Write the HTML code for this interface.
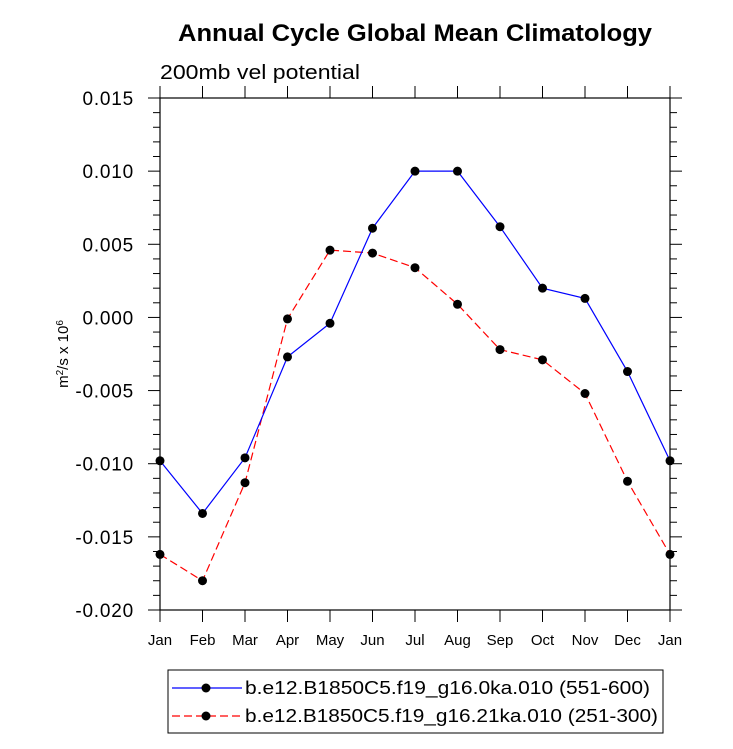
<!DOCTYPE html>
<html><head><meta charset="utf-8"><style>
body{margin:0;background:#fff}
svg text{font-family:"Liberation Sans",Helvetica,Arial,sans-serif;fill:#000}
</style></head><body>
<svg id="chart" width="733" height="744" viewBox="0 0 733 744" xmlns="http://www.w3.org/2000/svg">
<text x="178" y="41" font-size="24" font-weight="bold" textLength="474" lengthAdjust="spacingAndGlyphs">Annual Cycle Global Mean Climatology</text>
<text x="160" y="79" font-size="20" textLength="200" lengthAdjust="spacingAndGlyphs">200mb vel potential</text>
<text transform="translate(68,354) rotate(-90)" text-anchor="middle" font-size="15">m<tspan baseline-shift="super" font-size="10">2</tspan>/s x 10<tspan baseline-shift="super" font-size="10">6</tspan></text>
<g id="axes"></g>
<g id="series"></g>
<g id="legend"></g>
</svg>
<script>
const months = ["Jan","Feb","Mar","Apr","May","Jun","Jul","Aug","Sep","Oct","Nov","Dec","Jan"];
const yTicks = [0.015,0.010,0.005,0.000,-0.005,-0.010,-0.015,-0.020];
const yTickLabels = ["0.015","0.010","0.005","0.000","-0.005","-0.010","-0.015","-0.020"];
const blueValues = [-0.0098,-0.0134,-0.0096,-0.0027,-0.0004,0.0061,0.0100,0.0100,0.0062,0.0020,0.0013,-0.0037,-0.0098];
const redValues = [-0.0162,-0.0180,-0.0113,-0.0001,0.0046,0.0044,0.0034,0.0009,-0.0022,-0.0029,-0.0052,-0.0112,-0.0162];
const seriesNames = ["b.e12.B1850C5.f19_g16.0ka.010 (551-600)","b.e12.B1850C5.f19_g16.21ka.010 (251-300)"];

const L=160,R=670,T=98,B=610,yMin=-0.020,yMax=0.015;
const xs=i=>L+(R-L)*i/(months.length-1);
const ys=v=>B-(v-yMin)/(yMax-yMin)*(B-T);
const NS="http://www.w3.org/2000/svg";
function mk(tag,attrs,parent){const e=document.createElementNS(NS,tag);for(const k in attrs)e.setAttribute(k,attrs[k]);parent.appendChild(e);return e;}
const axes=document.getElementById('axes');
const frame=mk('rect',{x:L,y:T,width:R-L,height:B-T,fill:'none',stroke:'#000','stroke-width':1.2},axes);


yTicks.forEach((v,i)=>{
  const y=ys(v);
  mk('line',{x1:L-12,x2:L,y1:y,y2:y,stroke:'#000'},axes);
  mk('line',{x1:R,x2:R+12,y1:y,y2:y,stroke:'#000'},axes);
  const t=mk('text',{x:L-26,y:y+7,'text-anchor':'end','font-size':19,'letter-spacing':0.8},axes);
  t.textContent=yTickLabels[i];
  
  
  if(i<yTicks.length-1){for(let m=1;m<5;m++){const yy=y+(ys(yTicks[i+1])-y)*m/5;
    mk('line',{x1:L-7,x2:L,y1:yy,y2:yy,stroke:'#000'},axes);
    mk('line',{x1:R,x2:R+7,y1:yy,y2:yy,stroke:'#000'},axes);}}
});
months.forEach((m,i)=>{
  const x=xs(i);
  mk('line',{x1:x,x2:x,y1:B,y2:B+12,stroke:'#000'},axes);
  mk('line',{x1:x,x2:x,y1:T-12,y2:T,stroke:'#000'},axes);
  const t=mk('text',{x:x,y:B+35,'text-anchor':'middle','font-size':15},axes);
  t.textContent=m;
  
  
});
const ser=document.getElementById('series');
function drawSeries(vals,color,dash,name){
  const g=mk('g',{},ser);
  
  
  mk('polyline',{points:vals.map((v,i)=>xs(i)+','+ys(v)).join(' '),fill:'none',stroke:color,'stroke-width':1.2,'stroke-dasharray':dash},g);
  vals.forEach((v,i)=>{const c=mk('circle',{cx:xs(i),cy:ys(v),r:4.5,fill:'#000'},g);
    
    });
}
drawSeries(redValues,'#f00','8 4','series-21ka');
drawSeries(blueValues,'#00f','none','series-0ka');
const lg=document.getElementById('legend');
const box=mk('rect',{x:168,y:670,width:495,height:63,fill:'#fff',stroke:'#000'},lg);


[['#00f','none',688,405],['#f00','8 4',716,413]].forEach((s,i)=>{
  const g=mk('g',{},lg);
  
  
  mk('line',{x1:172,x2:242,y1:s[2],y2:s[2],stroke:s[0],'stroke-width':1.2,'stroke-dasharray':s[1]},g);
  mk('circle',{cx:206,cy:s[2],r:4.5,fill:'#000'},g);
  const t=mk('text',{x:245,y:s[2]+6,'font-size':18,textLength:s[3],lengthAdjust:'spacingAndGlyphs'},g);
  t.textContent=seriesNames[i];
});
</script>
</body></html>
